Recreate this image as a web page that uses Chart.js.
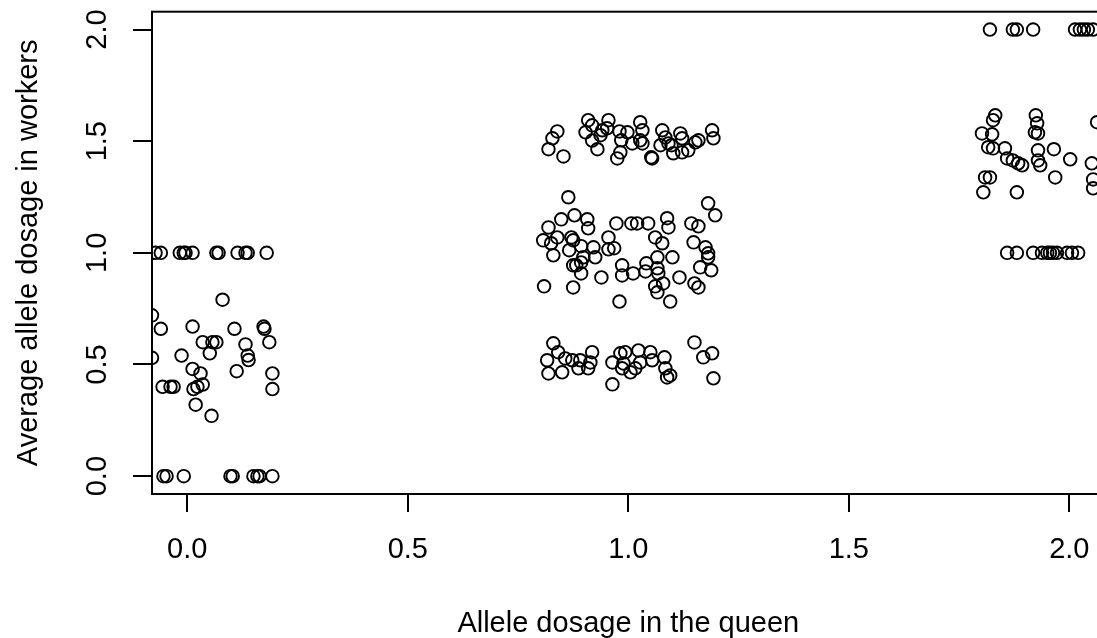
<!DOCTYPE html>
<html>
<head>
<meta charset="utf-8">
<script src="https://cdn.jsdelivr.net/npm/chart.js@4.4.0/dist/chart.umd.min.js"></script>
<style>
  html, body { margin: 0; padding: 0; background: #fff; overflow: hidden; }
  #wrap { width: 1097px; height: 638px; overflow: hidden; }
</style>
</head>
<body>
<div id="wrap"><canvas id="plot" width="1140" height="638"></canvas></div>
<script>
// queen dosage 0
var q0x = [-0.08, -0.08, -0.060, 0.012, 0.080, 0.107, 0.173, 0.175, 0.035, 0.057, 0.066, 0.132, 0.186,
  -0.013, 0.051, 0.137, 0.139, 0.012, 0.030, 0.112, 0.193, 0.193, -0.056, -0.038, -0.031, 0.014, 0.023,
  0.035, 0.019, 0.055,
  -0.072, -0.060, -0.017, -0.008, -0.004, 0.012, 0.066, 0.071, 0.114, 0.132, 0.137, 0.180,
  -0.054, -0.047, -0.008, 0.098, 0.103, 0.150, 0.159, 0.164, 0.193];
var q0y = [0.72, 0.53, 0.66, 0.67, 0.79, 0.66, 0.67, 0.66, 0.60, 0.60, 0.60, 0.59, 0.60,
  0.54, 0.55, 0.54, 0.52, 0.48, 0.46, 0.47, 0.46, 0.39, 0.40, 0.40, 0.40, 0.39, 0.40,
  0.41, 0.32, 0.27,
  1, 1, 1, 1, 1, 1, 1, 1, 1, 1, 1, 1,
  0, 0, 0, 0, 0, 0, 0, 0, 0];

// queen dosage 1
var q1x = [0.819, 0.828, 0.839, 0.853, 0.909, 0.903, 0.918, 0.918, 0.930, 0.937, 0.941, 0.955, 0.952,
  0.980, 0.984, 0.982, 0.975, 0.998, 1.009, 1.027, 1.032, 1.027, 1.032, 1.052, 1.054, 1.077, 1.084,
  1.073, 1.091, 1.098, 1.102, 1.118, 1.122, 1.122, 1.136, 1.152, 1.159, 1.190, 1.193,
  0.864, 1.181, 1.197, 0.878, 0.848, 0.907, 0.819, 0.909, 0.973, 1.007, 1.020, 1.045, 1.088, 1.091,
  1.143, 1.159, 0.807, 0.825, 0.839, 0.871, 0.875, 0.955, 1.061, 1.077, 1.148, 1.175, 0.830, 0.866,
  0.893, 0.921, 0.955, 0.968, 1.181, 1.181, 0.898, 0.925, 0.882, 0.893, 0.875, 0.986, 0.986, 1.011,
  1.041, 1.039, 1.066, 1.066, 1.068, 1.100, 1.163, 1.188, 0.893, 0.939, 1.116, 0.809, 0.875, 1.061,
  1.066, 1.079, 1.150, 1.159, 0.980, 1.095,
  0.830, 0.841, 0.816, 0.857, 0.873, 0.891, 0.918, 0.914, 0.819, 0.850, 0.887, 0.909, 0.964, 0.982,
  0.993, 0.989, 0.986, 1.023, 1.027, 1.005, 1.016, 1.050, 1.054, 1.082, 1.084, 1.088, 1.095, 0.964,
  1.150, 1.170, 1.190, 1.193];
var q1y = [1.464, 1.513, 1.544, 1.432, 1.594, 1.540, 1.571, 1.503, 1.464, 1.527, 1.549, 1.594, 1.558,
  1.544, 1.504, 1.450, 1.423, 1.540, 1.490, 1.585, 1.549, 1.504, 1.490, 1.428, 1.423, 1.549, 1.517,
  1.482, 1.490, 1.482, 1.446, 1.535, 1.513, 1.450, 1.459, 1.495, 1.504, 1.549, 1.513,
  1.249, 1.222, 1.168, 1.168, 1.150, 1.150, 1.114, 1.110, 1.132, 1.132, 1.132, 1.132, 1.155, 1.114,
  1.132, 1.119, 1.056, 1.043, 1.069, 1.069, 1.056, 1.069, 1.069, 1.043, 1.047, 1.025, 0.989, 1.012,
  1.030, 1.025, 1.016, 1.021, 0.998, 0.980, 0.980, 0.980, 0.944, 0.957, 0.944, 0.944, 0.899, 0.908,
  0.953, 0.917, 0.980, 0.931, 0.908, 0.980, 0.935, 0.922, 0.908, 0.890, 0.890, 0.850, 0.845, 0.850,
  0.823, 0.863, 0.863, 0.845, 0.782, 0.782,
  0.595, 0.555, 0.519, 0.527, 0.519, 0.519, 0.555, 0.509, 0.460, 0.465, 0.483, 0.483, 0.509, 0.550,
  0.555, 0.505, 0.483, 0.563, 0.509, 0.465, 0.483, 0.555, 0.519, 0.532, 0.483, 0.442, 0.451, 0.411,
  0.599, 0.532, 0.550, 0.438];

// queen dosage 2
var q2x = [1.820, 1.872, 1.881, 1.918, 2.013, 2.024, 2.033, 2.042, 2.054,
  1.832, 1.827, 1.924, 1.927, 1.922, 1.929, 1.802, 1.825, 1.816, 1.827, 1.854, 1.859, 1.872, 1.884,
  1.893, 1.929, 1.965, 2.002, 1.929, 1.934, 1.809, 1.820, 1.968, 1.805, 1.881, 2.063, 2.051, 2.054, 2.054,
  1.859, 1.881, 1.918, 1.938, 1.950, 1.956, 1.963, 1.972, 1.995, 2.006, 2.020];
var q2y = [2, 2, 2, 2, 2, 2, 2, 2, 2,
  1.616, 1.594, 1.616, 1.580, 1.540, 1.535, 1.535, 1.531, 1.473, 1.468, 1.468, 1.423, 1.414, 1.401,
  1.392, 1.459, 1.464, 1.419, 1.414, 1.392, 1.338, 1.338, 1.338, 1.271, 1.271, 1.585, 1.401, 1.329, 1.289,
  1, 1, 1, 1, 1, 1, 1, 1, 1, 1, 1];

var xTicks = [0, 0.5, 1, 1.5, 2];
var yTicks = [0, 0.5, 1, 1.5, 2];

var queenDosage = q0x.concat(q1x, q2x);
var workerDosage = q0y.concat(q1y, q2y);
var points = queenDosage.map(function (x, i) { return { x: x, y: workerDosage[i] }; });

var font = "'Liberation Sans', Arial, Helvetica, sans-serif";

var boxPlugin = {
  id: 'box',
  afterDatasetsDraw: function (chart) {
    var a = chart.chartArea, ctx = chart.ctx;
    ctx.save();
    ctx.strokeStyle = '#000';
    ctx.lineWidth = 2;
    ctx.strokeRect(a.left, a.top, a.right - a.left, a.bottom - a.top);
    ctx.restore();
  }
};

var ctx = document.getElementById('plot').getContext('2d');
var chart = new Chart(ctx, {
  type: 'scatter',
  data: {
    datasets: [{
      data: points,
      pointRadius: 6.3,
      pointBorderWidth: 1.9,
      pointBorderColor: '#000',
      pointBackgroundColor: 'rgba(0,0,0,0)',
      pointHoverRadius: 6.3,
      clip: 0
    }]
  },
  options: {
    responsive: false,
    devicePixelRatio: 1,
    animation: false,
    layout: { padding: { top: 11.7, right: 35.4, left: 0, bottom: 0 } },
    plugins: { legend: { display: false }, tooltip: { enabled: false } },
    scales: {
      x: {
        type: 'linear',
        min: -0.08,
        max: 2.08,
        afterBuildTicks: function (s) { s.ticks = xTicks.map(function (v) { return { value: v }; }); },
        afterFit: function (s) { s.height = 144; s.paddingLeft = 0; s.paddingRight = 0; },
        border: { display: false },
        grid: { drawOnChartArea: false, drawTicks: true, tickLength: 18, color: '#000', lineWidth: 2 },
        ticks: {
          color: '#000',
          font: { family: font, size: 29 },
          padding: 21,
          maxRotation: 0,
          callback: function (v) { return Number(v).toFixed(1); }
        },
        title: {
          display: true,
          text: 'Allele dosage in the queen',
          color: '#000',
          font: { family: font, size: 29, lineHeight: 1 },
          padding: { top: 1, bottom: 0 }
        }
      },
      y: {
        type: 'linear',
        min: -0.08,
        max: 2.08,
        afterBuildTicks: function (s) { s.ticks = yTicks.map(function (v) { return { value: v }; }); },
        afterFit: function (s) { s.width = 152; s.paddingTop = 0; s.paddingBottom = 0; },
        border: { display: false },
        grid: { drawOnChartArea: false, drawTicks: true, tickLength: 19, color: '#000', lineWidth: 2 },
        ticks: {
          color: '#000',
          font: { family: font, size: 29 },
          padding: 15,
          minRotation: 90,
          maxRotation: 90,
          crossAlign: 'center',
          callback: function (v) { return Number(v).toFixed(1); }
        },
        title: {
          display: true,
          text: 'Average allele dosage in workers',
          color: '#000',
          font: { family: font, size: 29, lineHeight: 1 },
          padding: { top: 14, bottom: 0 }
        }
      }
    }
  },
  plugins: [boxPlugin]
});
</script>
</body>
</html>
